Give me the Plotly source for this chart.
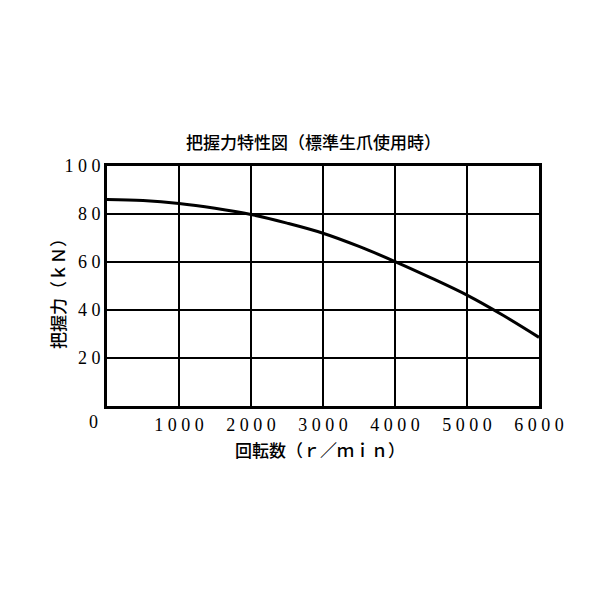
import plotly.graph_objects as go

# Data
rpm = [0, 500, 1000, 1500, 2000, 2500, 3000, 3500, 4000, 4500, 5000, 5500, 6000]
grip_kn = [86.0, 85.6, 84.4, 82.4, 79.8, 76.2, 72.0, 66.5, 60.2, 53.4, 46.2, 37.8, 28.6]

x_tickvals = [1000, 2000, 3000, 4000, 5000, 6000]
y_tickvals = [20, 40, 60, 80, 100]

SP = "\u2005"
def spaced(v):
    return SP.join(str(v))

x_ticktext = [spaced(v) for v in x_tickvals]
y_ticktext = [spaced(v) for v in y_tickvals]

title_text = "把握力特性図（標準生爪使用時）"
x_title = "回転数（ｒ／ｍｉｎ）"
y_title = "把握力（ｋＮ）"

CJK = "Noto Sans CJK JP"
NUM = "Liberation Serif"

fig = go.Figure()
fig.add_trace(go.Scatter(x=rpm, y=grip_kn, mode="lines",
                         line=dict(color="black", width=3, shape="spline"),
                         showlegend=False, hoverinfo="skip"))

fig.update_layout(
    width=600, height=600,
    margin=dict(l=99, r=69, t=158, b=202),
    paper_bgcolor="white", plot_bgcolor="white",
    showlegend=False,
)
fig.update_xaxes(range=[0, 6000], tickvals=x_tickvals, ticktext=x_ticktext,
                 showgrid=True, gridcolor="black", gridwidth=2,
                 showline=True, linecolor="black", linewidth=3, mirror=True,
                 zeroline=False, ticks="",
                 tickfont=dict(family=NUM, size=18, color="black"))
fig.update_yaxes(range=[0, 100], tickvals=y_tickvals, ticktext=y_ticktext,
                 showgrid=True, gridcolor="black", gridwidth=2,
                 showline=True, linecolor="black", linewidth=3, mirror=True,
                 zeroline=False, ticks="",
                 tickfont=dict(family=NUM, size=18, color="black"))

fig.add_annotation(text=title_text, xref="paper", yref="paper", x=0.479, y=1.10,
                   xanchor="center", yanchor="middle", showarrow=False,
                   font=dict(family=CJK, size=17, color="black", weight=500))
fig.add_annotation(text=x_title, xref="paper", yref="paper", x=0.493, y=-0.183,
                   xanchor="center", yanchor="middle", showarrow=False,
                   font=dict(family=CJK, size=17, color="black", weight=500))
fig.add_annotation(text=y_title, xref="paper", yref="paper", x=-0.1157, y=0.483,
                   xanchor="center", yanchor="middle", showarrow=False, textangle=-90,
                   font=dict(family=CJK, size=17, color="black", weight=500))
fig.add_annotation(text="0", xref="paper", yref="paper", x=-0.0324, y=-0.0667,
                   xanchor="center", yanchor="middle", showarrow=False,
                   font=dict(family=NUM, size=18, color="black"))

fig.write_html("out.html")
